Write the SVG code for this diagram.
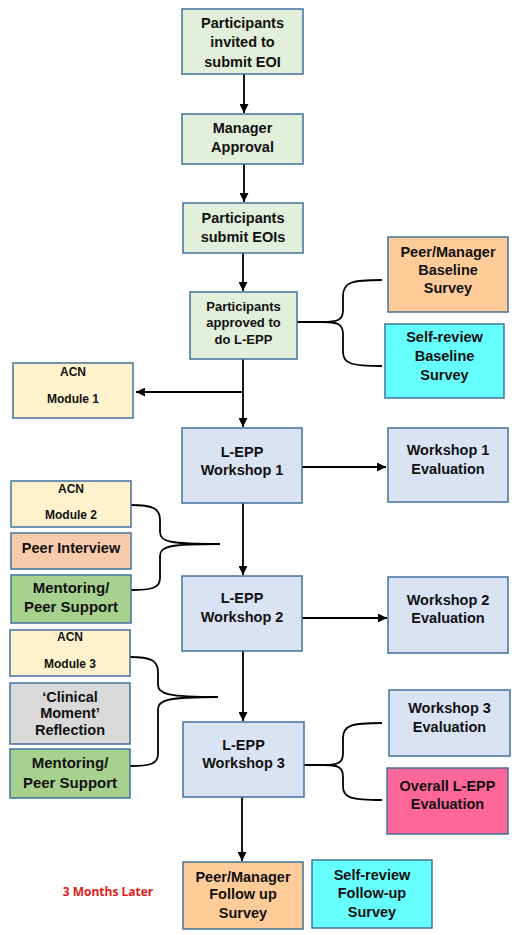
<svg xmlns="http://www.w3.org/2000/svg" width="515" height="935" viewBox="0 0 515 935">
<defs>
<style>
.b{stroke:#41719C;stroke-width:1.5}
.g{fill:#E2EFDA}.lb{fill:#DAE3F3}.y{fill:#FFF2CC}.o{fill:#FFCC99}.c{fill:#66FFFF}.s{fill:#F8CBAD}.m{fill:#A9D18E}.gr{fill:#D9D9D9}.p{fill:#FF6699}
text{font-family:"Liberation Sans",Arial,sans-serif;font-weight:bold;fill:#111;text-anchor:middle;font-size:14.5px}
.sm{font-size:12px}.md{font-size:13px}.lg{font-size:15px}
.red{fill:#E31B1B;font-family:"Open Sans","Liberation Sans",sans-serif;font-size:12px;font-weight:bold}
.ln{stroke:#000;stroke-width:1.8;fill:none}
</style>
<marker id="ah" viewBox="0 0 10 10" refX="10" refY="5" markerWidth="5" markerHeight="5" orient="auto">
<path d="M0,0 L10,5 L0,10 z" fill="#000"/>
</marker>
</defs>
<rect width="515" height="935" fill="#fff"/>
<g id="connectors">
<line class="ln" x1="244" y1="74" x2="244" y2="113" marker-end="url(#ah)"/>
<line class="ln" x1="244" y1="164" x2="244" y2="202" marker-end="url(#ah)"/>
<line class="ln" x1="243" y1="253" x2="243" y2="291" marker-end="url(#ah)"/>
<line class="ln" x1="243" y1="359" x2="243" y2="427" marker-end="url(#ah)"/>
<line class="ln" x1="243" y1="392" x2="136" y2="392" marker-end="url(#ah)"/>
<line class="ln" x1="302" y1="467" x2="386" y2="467" marker-end="url(#ah)"/>
<line class="ln" x1="243" y1="503" x2="243" y2="575" marker-end="url(#ah)"/>
<line class="ln" x1="302" y1="618" x2="387" y2="618" marker-end="url(#ah)"/>
<line class="ln" x1="243" y1="651" x2="243" y2="721" marker-end="url(#ah)"/>
<line class="ln" x1="242" y1="797" x2="242" y2="861" marker-end="url(#ah)"/>
<path class="ln" d="M297,322 L322,322 M382,280 C352,280 343,282 343,296 L343,310 C343,320 338,322 322,322 C338,322 343,324 343,334 L343,352 C343,364 352,366 382,366"/>
<path class="ln" d="M304,765 L324,765 M382,723 C352,723 343,725 343,738 L343,753 C343,763 338,765 324,765 C338,765 343,767 343,777 L343,787 C343,798 352,800 382,800"/>
<path class="ln" d="M131,505 C152,505 160,508 160,520 L160,532 C160,542 170,544 220,544 C170,544 160,546 160,556 L160,578 C160,588 152,590 131,590"/>
<path class="ln" d="M130,657 C150,657 158,660 158,672 L158,685 C158,694 168,697 218,697 C168,697 158,700 158,709 L158,754 C158,764 150,766 130,766"/>
</g>
<g id="n1"><rect class="b g" x="182" y="9" width="121" height="65"/><text x="242.5" y="28">Participants</text><text x="242.5" y="47">invited to</text><text x="242.5" y="67">submit EOI</text></g>
<g id="n2"><rect class="b g" x="182" y="114" width="121" height="50"/><text x="242.5" y="133">Manager</text><text x="242.5" y="152">Approval</text></g>
<g id="n3"><rect class="b g" x="183" y="203" width="120" height="50"/><text x="243" y="223">Participants</text><text x="243" y="242">submit EOIs</text></g>
<g id="n4"><rect class="b g" x="190" y="292" width="107" height="67"/><text class="md" x="243.5" y="311">Participants</text><text class="md" x="243.5" y="327">approved to</text><text class="md" x="243.5" y="344">do L-EPP</text></g>
<g id="n5"><rect class="b o" x="388" y="237" width="120" height="75"/><text x="448" y="257">Peer/Manager</text><text x="448" y="275">Baseline</text><text x="448" y="293">Survey</text></g>
<g id="n6"><rect class="b c" x="385" y="324" width="119" height="74"/><text x="444.5" y="342">Self-review</text><text x="444.5" y="361">Baseline</text><text x="444.5" y="380">Survey</text></g>
<g id="n7"><rect class="b y" x="13" y="363" width="120" height="55"/><text class="sm" x="73" y="376">ACN</text><text class="sm" x="73" y="403">Module 1</text></g>
<g id="n8"><rect class="b lb" x="182" y="428" width="120" height="75"/><text x="242" y="457">L-EPP</text><text x="242" y="475">Workshop 1</text></g>
<g id="n9"><rect class="b lb" x="388" y="428" width="120" height="74"/><text x="448" y="455">Workshop 1</text><text x="448" y="474">Evaluation</text></g>
<g id="n10"><rect class="b y" x="11" y="481" width="120" height="46"/><text class="sm" x="71" y="493">ACN</text><text class="sm" x="71" y="519">Module 2</text></g>
<g id="n11"><rect class="b s" x="11" y="533" width="120" height="36"/><text x="71" y="553">Peer Interview</text></g>
<g id="n12"><rect class="b m" x="11" y="575" width="120" height="48"/><text class="lg" x="71" y="593">Mentoring/</text><text class="lg" x="71" y="612">Peer Support</text></g>
<g id="n13"><rect class="b lb" x="182" y="576" width="120" height="75"/><text x="242" y="603">L-EPP</text><text x="242" y="622">Workshop 2</text></g>
<g id="n14"><rect class="b lb" x="388" y="577" width="120" height="76"/><text x="448" y="605">Workshop 2</text><text x="448" y="623">Evaluation</text></g>
<g id="n15"><rect class="b y" x="10" y="630" width="120" height="46"/><text class="sm" x="70" y="641">ACN</text><text class="sm" x="70" y="668">Module 3</text></g>
<g id="n16"><rect class="b gr" x="10" y="683" width="120" height="61"/><text x="70" y="702">‘Clinical</text><text x="70" y="718">Moment’</text><text x="70" y="735">Reflection</text></g>
<g id="n17"><rect class="b m" x="10" y="749" width="120" height="49"/><text class="lg" x="70" y="768">Mentoring/</text><text class="lg" x="70" y="788">Peer Support</text></g>
<g id="n18"><rect class="b lb" x="183" y="722" width="121" height="75"/><text x="243.5" y="750">L-EPP</text><text x="243.5" y="768">Workshop 3</text></g>
<g id="n19"><rect class="b lb" x="389" y="690" width="121" height="66"/><text x="449.5" y="713">Workshop 3</text><text x="449.5" y="732">Evaluation</text></g>
<g id="n20"><rect class="b p" x="387" y="768" width="121" height="66"/><text x="447.5" y="791">Overall L-EPP</text><text x="447.5" y="809">Evaluation</text></g>
<g id="n21"><rect class="b o" x="183" y="862" width="120" height="67"/><text x="243" y="882">Peer/Manager</text><text x="243" y="899">Follow up</text><text x="243" y="918">Survey</text></g>
<g id="n22"><rect class="b c" x="312" y="860" width="120" height="68"/><text x="372" y="880">Self-review</text><text x="372" y="898">Follow-up</text><text x="372" y="917">Survey</text></g>
<g id="n23"><text class="red" x="108" y="896">3 Months Later</text></g>
</svg>
